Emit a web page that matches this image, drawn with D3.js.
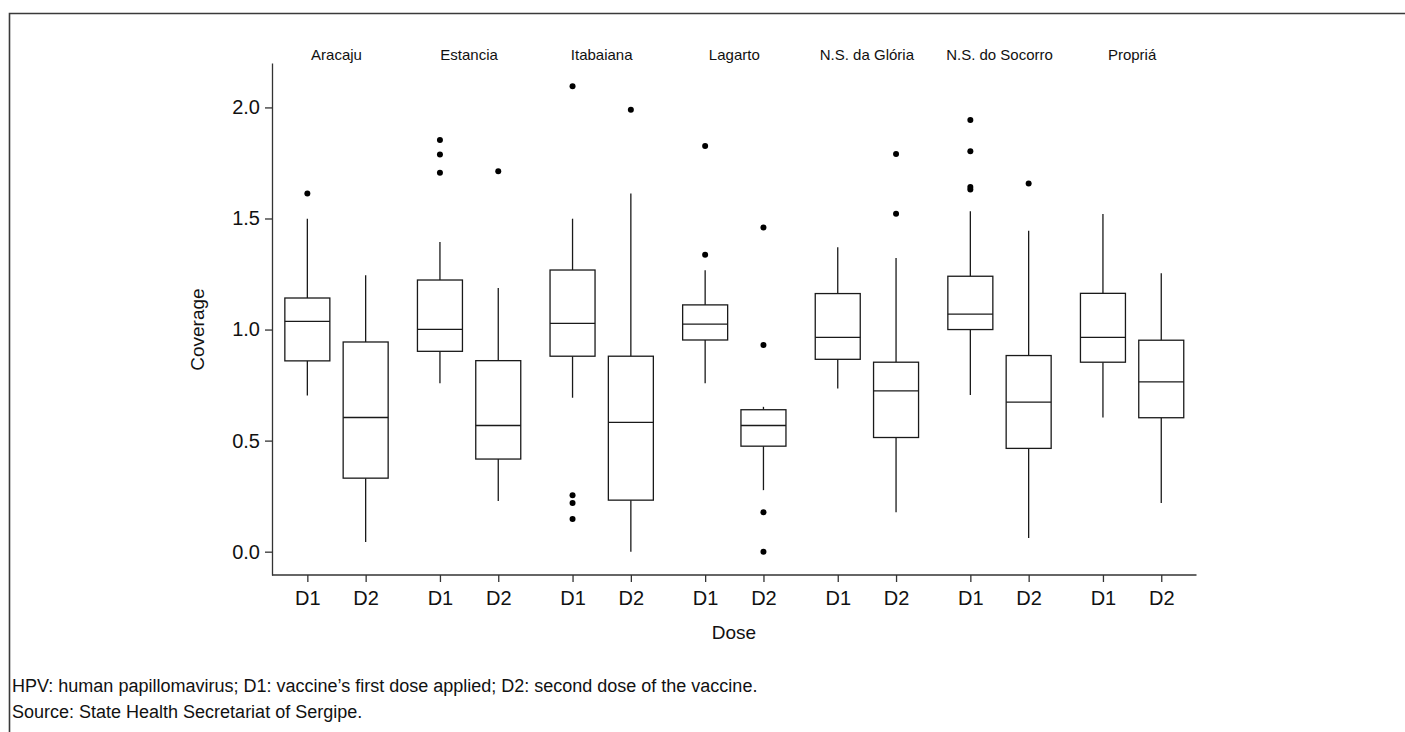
<!DOCTYPE html>
<html>
<head>
<meta charset="utf-8">
<script src="https://cdn.jsdelivr.net/npm/d3@7"></script>
<style>
  body { margin: 0; background: #fff; }
  text { font-family: "Liberation Sans", Arial, sans-serif; fill: #111; }
</style>
</head>
<body>
<div id="chart"></div>
<script>
var width  = 1405;
var height = 732;

// facets (municipalities) and doses
var cities = ["Aracaju", "Estancia", "Itabaiana", "Lagarto", "N.S. da Glória", "N.S. do Socorro", "Propriá"];
var doses  = ["D1", "D2"];
var yTicks = [0, 0.5, 1.0, 1.5, 2.0];

// box stats, order: city by city, D1 then D2
var whiskerLow  = [0.703, 0.044, 0.758, 0.228, 0.693, 0.000, 0.758, 0.277, 0.735, 0.178, 0.705, 0.062, 0.604, 0.219];
var q1          = [0.859, 0.331, 0.902, 0.417, 0.880, 0.232, 0.953, 0.475, 0.866, 0.514, 1.000, 0.465, 0.853, 0.603];
var median      = [1.037, 0.604, 1.001, 0.568, 1.028, 0.582, 1.024, 0.568, 0.965, 0.724, 1.069, 0.673, 0.965, 0.764];
var q3          = [1.142, 0.944, 1.223, 0.860, 1.268, 0.880, 1.111, 0.639, 1.162, 0.853, 1.240, 0.883, 1.163, 0.952];
var whiskerHigh = [1.499, 1.244, 1.394, 1.187, 1.499, 1.613, 1.267, 0.652, 1.370, 1.322, 1.533, 1.445, 1.520, 1.253];
var outliers = [
  [1.613], [],
  [1.706, 1.788, 1.853], [1.713],
  [0.147, 0.219, 0.254, 2.095], [1.989],
  [1.337, 1.826], [0.000, 0.178, 0.931, 1.459],
  [], [1.521, 1.790],
  [1.630, 1.642, 1.803, 1.943], [1.658],
  [], [],
];

var footnotes = [
  "HPV: human papillomavirus; D1: vaccine\u2019s first dose applied; D2: second dose of the vaccine.",
  "Source: State Health Secretariat of Sergipe."
];

var boxes = [];
cities.forEach(function(c, i) {
  doses.forEach(function(d, j) {
    var k = i * 2 + j;
    boxes.push({city: c, dose: d, lo: whiskerLow[k], q1: q1[k], med: median[k],
                q3: q3[k], hi: whiskerHigh[k], out: outliers[k]});
  });
});

var svg = d3.select("#chart").append("svg")
  .attr("width", width)
  .attr("height", height);

// frame (top and left only)
svg.append("path")
  .attr("d", "M9.5,732V13.5H1405")
  .attr("fill", "none")
  .attr("stroke", "#3a3a3a")
  .attr("stroke-width", 1.6);

var x = d3.scaleBand().domain(cities).range([270.2, 1198.4]);
var xDose = d3.scalePoint().domain(doses).range([0, x.bandwidth()]).padding(0.637);
var y = d3.scaleLinear().domain([-0.105, 2.2]).range([575, 63]);

function cx(d) { return x(d.city) + xDose(d.dose); }
var boxW = 45;

// y axis
var yAxis = svg.append("g")
  .attr("transform", "translate(272,0)")
  .call(d3.axisLeft(y).tickValues(yTicks).tickFormat(d3.format(".1f"))
    .tickSize(7).tickSizeOuter(0).tickPadding(5));
yAxis.selectAll("text").style("font-size", "20px").attr("fill", "#111");

// x axis: one line, ticks per facet
svg.append("line")
  .attr("x1", 272).attr("x2", 1196.5)
  .attr("y1", 575).attr("y2", 575)
  .attr("stroke", "#333").attr("stroke-width", 1.3);

cities.forEach(function(c) {
  var g = svg.append("g")
    .attr("transform", "translate(" + x(c) + ",575)")
    .call(d3.axisBottom(xDose).tickSize(7).tickPadding(9));
  g.select(".domain").remove();
  g.selectAll("text").style("font-size", "20px").attr("fill", "#111");
});

svg.selectAll(".domain, .tick line")
  .attr("stroke", "#333")
  .attr("stroke-width", 1.3);

// facet labels
svg.selectAll(".facet")
  .data(cities)
  .enter().append("text")
  .attr("class", "facet")
  .attr("x", function(c) { return x(c) + x.bandwidth() / 2; })
  .attr("y", 60)
  .attr("text-anchor", "middle")
  .style("font-size", "15px")
  .text(function(c) { return c; });

// boxplots
var bp = svg.selectAll(".box")
  .data(boxes)
  .enter().append("g")
  .attr("class", "box");

bp.append("line")
  .attr("x1", cx).attr("x2", cx)
  .attr("y1", function(d) { return y(d.hi); })
  .attr("y2", function(d) { return y(d.q3); });

bp.append("line")
  .attr("x1", cx).attr("x2", cx)
  .attr("y1", function(d) { return y(d.q1); })
  .attr("y2", function(d) { return y(d.lo); });

bp.append("rect")
  .attr("x", function(d) { return cx(d) - boxW / 2; })
  .attr("width", boxW)
  .attr("y", function(d) { return y(d.q3); })
  .attr("height", function(d) { return y(d.q1) - y(d.q3); })
  .attr("fill", "#fff");

bp.append("line")
  .attr("x1", function(d) { return cx(d) - boxW / 2; })
  .attr("x2", function(d) { return cx(d) + boxW / 2; })
  .attr("y1", function(d) { return y(d.med); })
  .attr("y2", function(d) { return y(d.med); });

bp.selectAll("line, rect")
  .attr("stroke", "#1a1a1a")
  .attr("stroke-width", 1.3);

bp.selectAll(".out")
  .data(function(d) { return d.out.map(function(v) { return {v: v, x: cx(d)}; }); })
  .enter().append("circle")
  .attr("class", "out")
  .attr("cx", function(o) { return o.x; })
  .attr("cy", function(o) { return y(o.v); })
  .attr("r", 3)
  .attr("fill", "#000");

// axis titles
svg.append("text")
  .attr("transform", "translate(197," + y(1.0) + ") rotate(-90)")
  .attr("text-anchor", "middle")
  .attr("dy", "0.35em")
  .style("font-size", "19px")
  .text("Coverage");

svg.append("text")
  .attr("x", 734)
  .attr("y", 639)
  .attr("text-anchor", "middle")
  .style("font-size", "19px")
  .text("Dose");

// notes under the figure
svg.selectAll(".note")
  .data(footnotes)
  .enter().append("text")
  .attr("class", "note")
  .attr("x", 12)
  .attr("y", function(d, i) { return 692 + i * 26; })
  .style("font-size", "18px")
  .text(function(d) { return d; });
</script>
</body>
</html>
